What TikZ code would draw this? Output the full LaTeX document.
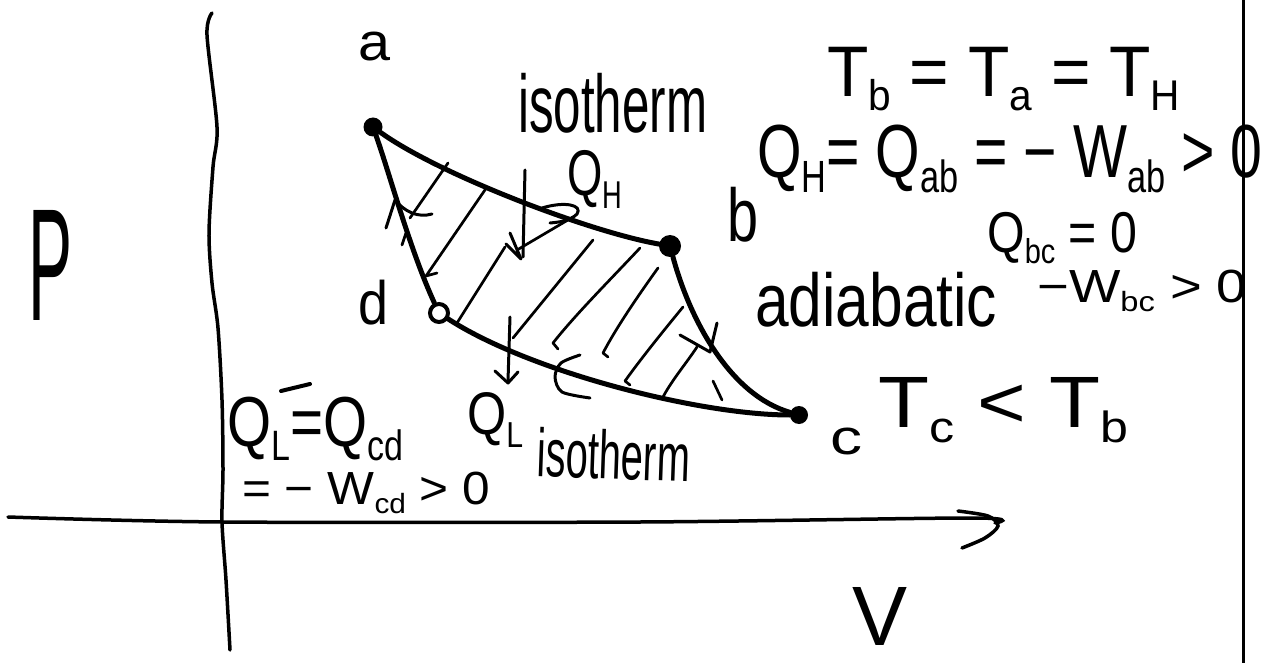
\documentclass[tikz,border=0pt]{standalone}
\usepackage{fontspec}
\setmainfont{Liberation Sans}
\usepackage{graphicx}
\newcommand\hwsub[1]{\raisebox{-0.2em}{\scalebox{0.6}{#1}}}
\begin{document}
\begin{tikzpicture}[x=1pt,y=-1pt,
  hw/.style={inner sep=0pt, anchor=west},
  dot/.style={circle, fill=black, inner sep=0pt, minimum size=18pt},
  odot/.style={circle, draw=black, line width=4pt, fill=white, inner sep=0pt, minimum size=18pt},
  cyc/.style={line width=5pt, line cap=round, line join=round},
  axis/.style={line width=3.5pt, line cap=round},
  hatch/.style={line width=2.7pt, line cap=round, line join=round},
  tip/.style={line width=3pt, line cap=round, line join=round}]
\useasboundingbox (0,0) rectangle (1277,663);
\fill[white] (0,0) rectangle (1277,663);

% axes and border
\draw[axis] plot[smooth] coordinates {(212,13) (207,35) (217,127) (213,167) (209,233) (212,283) (218,328) (222,400) (223,470) (222,522) (226,580) (230,650)};
\draw[axis] plot[smooth] coordinates {(8,517) (222,522) (640,522) (973,518) (995,523)};
\draw[axis] plot[smooth] coordinates {(958,511) (988,516) (998,526) (985,538) (962,548)};
\draw[line width=3pt] (1243,0) -- (1243,663);

% state points
\node[dot, minimum size=19pt] (a) at (373,127) {};
\node[dot, minimum size=22pt] (b) at (670,246) {};
\node[dot, minimum size=18pt] (c) at (799,415) {};
\node[odot] (d) at (439,313) {};

% cycle
\draw[cyc] (a) .. controls (440,175) and (590,232) .. (b);
\draw[cyc] (b) .. controls (690,320) and (730,395) .. (c);
\draw[cyc] (c) .. controls (700,415) and (530,372) .. (d);
\draw[cyc] (d) .. controls (410,250) and (390,175) .. (a);

% hatching
\draw[hatch] (448,163) -- (410,218);
\draw[hatch] (406,233) -- (402,245);
\draw[hatch] (487,187) -- (426,276) -- (437,273);
\draw[hatch] (505,247) -- (457,323);
\draw[hatch] (593,240) -- (513,338);
\draw[hatch] (640,248) .. controls (610,280) and (575,315) .. (553,343) -- (558,349);
\draw[hatch] (658,268) .. controls (635,300) and (615,330) .. (603,353) -- (608,357);
\draw[hatch] (683,307) .. controls (660,335) and (640,360) .. (625,381) -- (630,385);
\draw[hatch] (697,347) .. controls (685,365) and (672,380) .. (663,397);
\draw[hatch] (517,250) -- (573,217);

% direction arrows on the cycle
\draw[tip] (386,228) -- (395,200) .. controls (405,212) and (418,218) .. (432,214);
\draw[tip] (680,335) -- (710,352) -- (717,323);
\draw[hatch] (713,381) -- (722,400);
\draw[tip] plot[smooth] coordinates {(580,355) (561,363) (555,377) (562,392) (590,398)};
\draw[tip] (542,208) .. controls (565,201) and (583,205) .. (577,214) .. controls (570,221) and (560,222) .. (550,223);

% heat arrows
\draw[tip] (525,170) -- (523,257);
\draw[tip] (506,244) -- (521,259) -- (510,233);
\draw[tip] (510,317) -- (508,381);
\draw[tip] (495,371) -- (508,383) -- (518,372);

% stray stroke
\draw[line width=4pt, line cap=round] (281,391) -- (310,384);

% labels
\node[hw] (la) at (358,47) {\resizebox*{32pt}{29pt}{a}};
\node[hw] (lb) at (727,215) {\resizebox*{31pt}{55pt}{b}};
\node[hw] (lc) at (830,441) {\resizebox*{32pt}{27pt}{c}};
\node[hw] (ld) at (358,303) {\resizebox*{30pt}{45pt}{d}};
\node[hw] (lP) at (28,265) {\resizebox*{44pt}{110pt}{P}};
\node[hw] (lV) at (852,616) {\resizebox*{55pt}{58pt}{V}};

\node[hw] (iso1) at (518,103) {\resizebox*{189pt}{60pt}{isotherm}};
\node[hw] (qh) at (567,179) {\resizebox*{55pt}{58pt}{Q\hwsub{H}}};
\node[hw, rotate=-2] (iso2) at (537,452) {\resizebox*{153pt}{50pt}{isotherm}};
\node[hw] (ql) at (467,420) {\resizebox*{56pt}{54pt}{Q\hwsub{L}}};

\node[hw] (t1) at (827,79) {\resizebox*{353pt}{64pt}{T\hwsub{b} = T\hwsub{a} = T\hwsub{H}}};
\node[hw] (t2) at (757,159) {\resizebox*{505pt}{68pt}{Q\hwsub{H}= Q\hwsub{ab} = − W\hwsub{ab} > 0}};
\node[hw] (t3) at (987,238) {\resizebox*{150pt}{52pt}{Q\hwsub{bc} = 0}};
\node[hw] (t4) at (755,300) {\resizebox*{242pt}{55pt}{adiabatic}};
\node[hw] (t5) at (1037,291) {\resizebox*{210pt}{42pt}{−W\hwsub{bc} > 0}};
\node[hw] (t7) at (878,410) {\resizebox*{250pt}{65pt}{T\hwsub{c} < T\hwsub{b}}};
\node[hw] (t8) at (227,429) {\resizebox*{176pt}{64pt}{Q\hwsub{L}=Q\hwsub{cd}}};
\node[hw] (t9) at (242,493) {\resizebox*{248pt}{42pt}{= − W\hwsub{cd} > 0}};
\end{tikzpicture}
\end{document}
